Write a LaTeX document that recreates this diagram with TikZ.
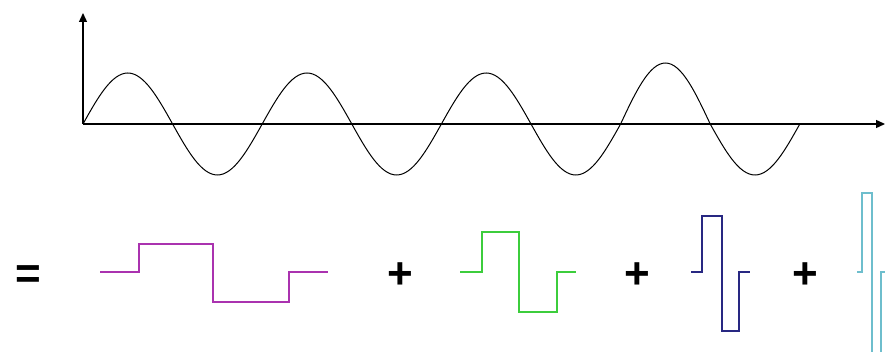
\documentclass[tikz,border=0pt]{standalone}
\usepackage{fontspec}
\setmainfont{Liberation Sans}
\usetikzlibrary{positioning, arrows.meta}
\definecolor{WavePurple}{RGB}{170, 50, 175}
\definecolor{WaveGreen}{RGB}{60, 205, 60}
\definecolor{WaveNavy}{RGB}{40, 40, 130}
\definecolor{WaveCyan}{RGB}{110, 190, 205}
\tikzset{
  axis/.style={-{Triangle[length=9pt, width=8pt]}, line width=1.3pt},
  wave/.style={line width=1pt},
  pulse/.style={line width=1.1pt},
  sign/.style={font=\fontsize{44}{44}\selectfont\bfseries, inner sep=0pt, anchor=base},
}

\begin{document}
\begin{tikzpicture}[x=1pt, y=-1pt]
  \useasboundingbox (0,0) rectangle (885,352);
  \clip (0,0) rectangle (885,352);
  % axes
  \coordinate (O) at (83,124);
  \coordinate (ytip) at (83,13);
  \coordinate (xtip) at (885,124);
  \draw[axis] (O) -- (ytip);
  \draw[axis] (O) -- (xtip);
  % sine, four periods
  \draw[wave] (O) \foreach \up/\down in {-51/51, 51/-51, -51/51, 51/-51, -51/51, 51/-51, -61/61, 51/-51} {
    sin ++(44.8,\up) cos ++(44.8,\down)};
  % signs
  \node[sign] (eq) at (28,288) {=};
  \node[sign] (plus1) at (400,288) {+};
  \node[sign] (plus2) at (637,288) {+};
  \node[sign] (plus3) at (805,288) {+};
  % pulses
  \draw[pulse, WavePurple] (100,272) -| (139,244) -| (213,302) -| (289,272) -- (328,272);
  \draw[pulse, WaveGreen] (460,272) -| (482,232) -| (519,312) -| (557,272) -- (576,272);
  \draw[pulse, WaveNavy] (691,272) -| (702,216) -| (722,331) -| (739,272) -- (750,272);
  \draw[pulse, WaveCyan] (857,272) -| (862,193) -| (872,358) -| (881,272) -- (895,272);
\end{tikzpicture}
\end{document}
